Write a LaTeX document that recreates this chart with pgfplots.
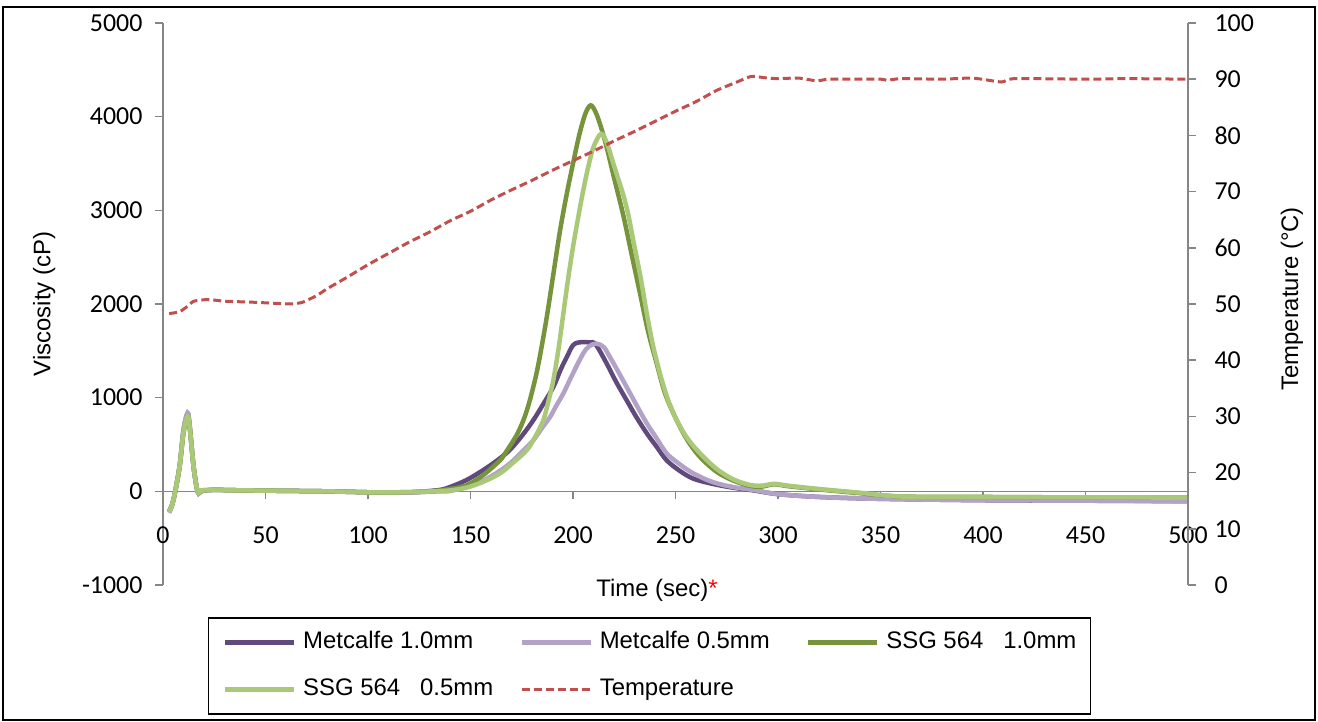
\documentclass[border=0pt]{standalone}
\usepackage{fontspec}
\setmainfont{Liberation Sans}
\newfontfamily\tickfont{Carlito}
\usepackage{pgfplots}
\usepackage{pgfplotstable}
\pgfplotsset{compat=1.18}

\definecolor{metdark}{HTML}{604A7B}
\definecolor{metlight}{HTML}{B3A2C7}
\definecolor{ssgdark}{HTML}{77933C}
\definecolor{ssglight}{HTML}{A9C978}
\definecolor{tempred}{HTML}{C0504D}
\definecolor{axisgray}{HTML}{868686}

% Viscosity (cP) against time (s)
\pgfplotstableread{
t v
3 -220
5 -100
8 250
10 650
12 830
13 700
15 250
17 -10
19 5
25 15
40 10
60 5
80 0
100 -10
115 -15
125 -5
135 15
140 46
148 120
156 224
163 330
169 438
175 590
180.6 758
186 950
190.4 1113
194 1300
197 1434
200 1560
203 1590
208 1590
211 1570
216.4 1366
221 1170
226.2 971
231 790
236 619
241 470
245.7 331
252 220
258.7 135
268 80
278 39
288 10
300 -30
320 -60
350 -80
400 -95
450 -100
500 -105
}\metA

\pgfplotstableread{
t v
3 -230
5 -100
8 260
10 660
12 840
13 700
15 250
17 -10
19 5
25 15
40 10
60 5
80 0
100 -10
115 -15
125 -10
135 0
140 3
148 50
156.3 117
163 200
169.3 299
175 420
180.6 544
185 680
188.8 793
192 920
195.3 1046
200 1260
205 1473
208 1550
211.5 1577
215 1540
218 1434
222 1280
226.2 1113
231 920
236 726
241 560
245.7 405
252 290
258.7 192
268 100
278 46
288 15
300 -30
320 -60
350 -80
400 -95
450 -100
500 -107
}\metB

\pgfplotstableread{
t v
3 -210
5 -100
8 250
10 620
12 800
13 690
15 250
17 -5
19 10
25 15
40 10
60 5
80 0
100 -10
115 -10
125 -5
132 3
140 25
148 64
156 170
164.4 331
167 410
170 510
173 620
175.8 758
178 900
180 1060
182.5 1290
185 1580
187.5 1900
190.5 2330
193.7 2786
197 3180
200 3498
203 3800
206 4030
208.6 4121
211 4050
213.5 3900
216.4 3676
220 3350
224.5 2950
228.5 2540
232.7 2113
236.5 1720
240.8 1366
245 1040
250.6 758
256 540
262 366
270 210
278 117
286 60
292 50
298 75
305 55
320 20
340 -20
360 -55
400 -60
450 -65
500 -66
}\ssgA

\pgfplotstableread{
t v
3 -220
5 -100
8 250
10 630
12 800
13 690
15 250
17 -5
19 10
25 15
40 10
60 5
80 0
100 -10
115 -10
125 -5
132 0
140 10
148 39
156 100
164.4 192
171 310
177.4 438
181.5 580
185.5 758
188 960
190.4 1185
193 1530
195.3 1900
197.5 2250
200 2608
202.5 2920
205 3213
207.5 3470
210 3676
213.7 3818
216.5 3720
219.7 3498
222 3340
224.6 3160
227 2950
229.4 2680
233 2280
236 1900
239 1560
242.4 1260
246 1000
250.6 758
256 560
262 405
270 240
278 130
286 70
292 60
298 80
305 60
320 25
340 -15
360 -55
400 -60
450 -65
500 -66
}\ssgB

% Temperature (degC) against time (s)
\pgfplotstableread{
t T
3 48.3
8 48.6
12 49.6
15 50.5
22 50.8
30 50.5
45 50.3
62 50.0
68 50.3
75 51.5
80 52.7
90 54.8
100 57
110 59
120 61
130 62.8
140 64.8
150 66.5
160 68.5
170 70.3
180 72
190 73.8
200 75.5
210 77.2
220 79
230 80.7
240 82.5
250 84.3
260 86
270 88
280 89.5
287 90.5
295 90.2
300 90.1
310 90.2
319 89.7
325 90.0
350 90.0
353 89.8
360 90.1
380 90.0
395 90.2
409 89.5
415 90.1
450 90.0
470 90.1
500 90.0
}\temp

\pgfplotsset{
  base/.style={
    scale only axis, width=1025bp, height=562bp,
    at={(163bp,137bp)}, anchor=south west,
    xmin=0, xmax=500,
    axis line style={axisgray, line width=1.5bp},
    tick style={axisgray, line width=1.5bp},
    tick align=outside, major tick length=8bp,
    tick label style={font=\tickfont\fontsize{26}{30}\selectfont},
    label style={font=\fontsize{24}{28}\selectfont},
    /pgf/number format/assume math mode=true,
    /pgf/number format/1000 sep={},
    hide obscured x ticks=false, hide obscured y ticks=false,
  },
  visc/.style={smooth, tension=0.55, line width=4.5bp, no marks},
}

\begin{document}
\begin{tikzpicture}
\path (0,0) rectangle (1318bp,722bp);
\draw[black, line width=1.2bp] (3bp,2bp) rectangle (1315bp,715bp);

% Viscosity, left axis
\begin{axis}[base,
  ymin=-1000, ymax=5000, ytick={-1000,0,...,5000},
  axis y line*=left, axis x line*=middle,
  xtick={0,50,...,500},
  xticklabel style={yshift=-24bp},
  yticklabel style={xshift=-9bp},
  xlabel={Time (sec)\textcolor{red}{*}},
  xlabel style={at={(axis description cs:0.482,-0.009)}, anchor=center},
  ylabel={Viscosity (cP)},
  ylabel style={at={(axis description cs:-0.116,0.5)}, anchor=center},
]
\addplot[visc, metdark] table[x=t, y=v] {\metA};
\addplot[visc, metlight] table[x=t, y=v] {\metB};
\addplot[visc, ssgdark] table[x=t, y=v] {\ssgA};
\addplot[visc, ssglight] table[x=t, y=v] {\ssgB};
\end{axis}

% Temperature, right axis
\begin{axis}[base,
  ymin=0, ymax=100, ytick={0,10,...,100},
  axis y line*=right, axis x line=none,
  yticklabel style={xshift=15bp},
  ylabel={Temperature (°C)},
  ylabel style={at={(axis description cs:1.1015,0.509)}, anchor=center},
  legend columns=3,
  legend cell align=left,
  legend image code/.code={\draw[#1] (0bp,0bp) -- (69bp,0bp);},
  legend style={
    at={(axis description cs:0.0439,-0.057)}, anchor=north west,
    draw=black, line width=1.5bp,
    font=\fontsize{24}{28}\selectfont,
    inner xsep=14bp, inner ysep=13bp, row sep=24bp,
    nodes={inner sep=0pt, text height=18bp, text depth=5bp},
    /tikz/column 1/.style={column sep=7bp},
    /tikz/column 2/.style={column sep=26bp},
    /tikz/column 3/.style={column sep=7bp},
    /tikz/column 4/.style={column sep=36bp},
    /tikz/column 5/.style={column sep=7bp},
  },
]
\addlegendimage{metdark, line width=4.5bp}
\addlegendentry{Metcalfe 1.0mm}
\addlegendimage{metlight, line width=4.5bp}
\addlegendentry{Metcalfe 0.5mm}
\addlegendimage{ssgdark, line width=4.5bp}
\addlegendentry{SSG 564\ \ \ 1.0mm}
\addlegendimage{ssglight, line width=4.5bp}
\addlegendentry{SSG 564\ \ \ 0.5mm}
\addplot[tempred, smooth, tension=0.3, line width=3bp, dash pattern=on 8bp off 4bp, no marks]
  table[x=t, y=T] {\temp};
\addlegendentry{Temperature}
\end{axis}
\end{tikzpicture}
\end{document}
